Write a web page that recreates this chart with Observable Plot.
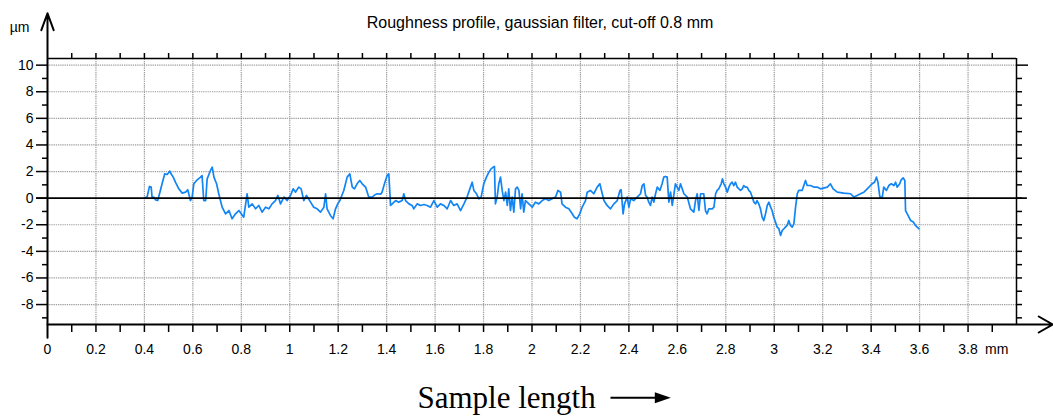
<!DOCTYPE html>
<html>
<head>
<meta charset="utf-8">
<script src="https://cdn.jsdelivr.net/npm/d3@7"></script>
<script src="https://cdn.jsdelivr.net/npm/@observablehq/plot@0.6"></script>
<style>
  html, body { margin: 0; padding: 0; background: #fff; }
  svg { display: block; }
</style>
</head>
<body>
<div id="chart"></div>
<script>
// Roughness profile: position along the sample (mm) and filtered height (µm)
const positionMm = [
  0.400, 0.411, 0.421, 0.428, 0.432, 0.439, 0.446, 0.455, 0.464, 0.473, 0.484, 0.494, 0.505, 0.510, 0.519, 0.528,
  0.542, 0.556, 0.570, 0.579, 0.590, 0.597, 0.604, 0.618, 0.632, 0.638, 0.645, 0.653, 0.659, 0.673, 0.680, 0.687,
  0.698, 0.707, 0.721, 0.735, 0.749, 0.762, 0.776, 0.790, 0.810, 0.824, 0.831, 0.845, 0.859, 0.872, 0.886, 0.900,
  0.914, 0.927, 0.941, 0.951, 0.962, 0.976, 0.989, 1.003, 1.014, 1.024, 1.037, 1.047, 1.058, 1.069, 1.086, 1.099,
  1.113, 1.127, 1.141, 1.148, 1.154, 1.168, 1.179, 1.189, 1.198, 1.207, 1.223, 1.237, 1.248, 1.258, 1.267, 1.278,
  1.289, 1.299, 1.313, 1.326, 1.340, 1.354,
  1.361, 1.375, 1.381, 1.391, 1.402, 1.409, 1.416, 1.423, 1.437, 1.450, 1.464, 1.471, 1.478, 1.492, 1.505, 1.512,
  1.526, 1.540, 1.554, 1.567, 1.581, 1.595, 1.602, 1.609, 1.622, 1.636, 1.650, 1.664, 1.677, 1.691, 1.705, 1.719,
  1.732, 1.746, 1.753, 1.760, 1.771, 1.781, 1.790, 1.801, 1.812, 1.822, 1.831, 1.840, 1.845, 1.849, 1.856, 1.863,
  1.870, 1.877, 1.884, 1.891, 1.898, 1.904, 1.911, 1.918, 1.925, 1.932, 1.939, 1.946, 1.953, 1.959, 1.966, 1.973,
  1.987, 2.001, 2.014, 2.028, 2.042, 2.056, 2.069, 2.083, 2.097, 2.107, 2.118, 2.124, 2.138, 2.152, 2.166, 2.175,
  2.186, 2.197, 2.207, 2.221, 2.228, 2.241, 2.255, 2.269, 2.280, 2.290, 2.297, 2.310, 2.324, 2.338,
  2.352, 2.363, 2.368, 2.376, 2.382, 2.393, 2.400, 2.407, 2.420, 2.434, 2.448, 2.455, 2.462, 2.469, 2.475, 2.482,
  2.489, 2.496, 2.503, 2.510, 2.517, 2.528, 2.537, 2.544, 2.551, 2.558, 2.565, 2.572, 2.579, 2.586, 2.592, 2.599,
  2.606, 2.613, 2.620, 2.627, 2.641, 2.654, 2.668, 2.675, 2.682, 2.689, 2.696,
  2.709, 2.716, 2.723, 2.730, 2.744, 2.751, 2.758, 2.764, 2.771, 2.781, 2.786, 2.792, 2.799, 2.806, 2.813, 2.819,
  2.826, 2.833, 2.840, 2.847, 2.854, 2.861, 2.868, 2.874, 2.881, 2.888, 2.895, 2.902, 2.909, 2.916, 2.923, 2.929,
  2.936, 2.943, 2.950, 2.957, 2.964, 2.971, 2.978, 2.985, 2.991, 2.998, 3.005, 3.012, 3.019, 3.026, 3.033, 3.040,
  3.046, 3.053, 3.060, 3.067, 3.074, 3.081, 3.088, 3.095, 3.101, 3.115, 3.122, 3.129, 3.136, 3.150, 3.163, 3.177,
  3.191, 3.219, 3.232, 3.243, 3.260, 3.287,
  3.315, 3.329, 3.342, 3.356, 3.370, 3.384, 3.397, 3.404, 3.414, 3.422, 3.428, 3.436, 3.446, 3.452, 3.463, 3.473,
  3.483, 3.494, 3.501, 3.507, 3.518, 3.524, 3.532, 3.539, 3.542, 3.549, 3.556, 3.563, 3.574, 3.583, 3.590, 3.597
];
const heightUm = [
  0.00, 0.08, 0.88, 0.83, 0.00, 0.08, -0.13, -0.18, 0.45, 1.08, 1.83, 1.78, 2.03, 1.83, 1.58, 1.20,
  0.70, 0.38, 0.45, 0.63, -0.18, 0.08, 1.08, 1.38, 1.58, 1.70, -0.18, -0.18, 1.45, 2.08, 2.33, 1.58,
  1.08, 0.33, -0.68, -1.18, -0.93, -1.55, -1.18, -0.93, -1.43, 0.33, -0.68, -0.43, -0.80, -0.55, -1.05, -0.68,
  -0.80, -0.43, -0.18, 0.20, -0.43, 0.08, -0.18, 0.20, 0.70, 0.45, 0.83, 0.70, -0.18, 0.20, -0.30, -0.68,
  -0.80, -1.05, -0.68, 0.33, -0.80, -1.30, -1.55, -0.80, -0.43, -0.18, 0.58, 1.58, 1.83, 0.83, 0.70, 1.08,
  1.33, 1.08, 0.83, 0.08, 0.08, 0.28,
  0.33, 0.30, 0.45, 1.08, 1.70, 1.83, -0.55, -0.43, -0.18, -0.30, -0.18, 0.33, -0.18, -0.43, -0.55, -0.80,
  -0.43, -0.55, -0.48, -0.55, -0.68, -0.18, -0.43, -0.68, -0.43, -0.55, -0.80, -0.18, -0.55, -0.43, -0.93, -0.43,
  0.08, 0.83, 1.20, 0.58, 0.33, -0.05, 0.08, 1.08, 1.58, 1.95, 2.20, 2.33, 2.38, -0.43, 0.08, 1.08,
  1.58, 0.58, -0.18, 0.45, -0.55, 0.70, -0.93, 0.08, -1.05, 0.70, 0.83, 0.58, -0.80, 0.33, -1.05, -0.18,
  -0.43, -0.68, -0.30, -0.43, -0.18, -0.05, -0.18, -0.05, 0.08, 0.58, 0.45, -0.43, -0.68, -0.80, -1.18, -1.43,
  -1.55, -1.18, -0.68, -0.18, 0.45, 0.58, 0.33, 0.83, 1.08, 0.33, -0.18, -0.55, -0.80, -0.43,
  -0.18, 0.58, 0.63, -1.18, -0.43, 0.08, -0.68, -0.05, -0.18, 0.08, 0.33, 0.95, 1.08, 0.20, 0.08, -0.30,
  -0.55, 0.08, -0.30, 0.33, 0.83, 0.58, 1.08, 1.58, 1.63, 1.58, -0.30, 0.45, -0.55, 0.33, 1.08, 0.83,
  0.58, 1.08, 0.70, 0.33, 0.08, -0.80, -1.05, -0.18, 0.33, -0.93, 0.33,
  0.33, -0.93, -1.18, -0.80, -0.80, -0.68, 0.33, 0.58, 0.70, 1.08, 1.45, 1.08, 0.83, 0.45, 0.83, 1.08,
  1.20, 0.95, 1.20, 0.83, 0.70, 0.58, 0.70, 0.95, 0.83, 0.83, 0.58, 0.45, 0.08, -0.30, -0.43, -0.18,
  -0.43, -0.80, -1.43, -1.68, -1.18, -0.55, -0.30, -0.68, -0.93, -1.43, -1.80, -2.18, -2.30, -2.80, -2.43, -2.30,
  -2.18, -2.05, -1.68, -2.05, -2.18, -1.93, -0.68, 0.33, 0.58, 0.58, 0.95, 1.33, 0.95, 0.95, 0.83, 0.83,
  0.70, 0.83, 1.08, 0.70, 0.45, 0.38,
  0.33, 0.08, 0.20, 0.33, 0.45, 0.70, 0.95, 1.08, 1.20, 1.58, 1.20, 0.08, 0.08, 0.83, 0.58, 0.95,
  1.08, 0.95, 1.20, 0.83, 1.08, 1.38, 1.53, 1.33, -0.93, -1.18, -1.43, -1.68, -1.80, -2.05, -2.18, -2.30
];

// Axis ticks and labels
const xLabelTicks = [0, 0.2, 0.4, 0.6, 0.8, 1, 1.2, 1.4, 1.6, 1.8, 2, 2.2, 2.4, 2.6, 2.8, 3, 3.2, 3.4, 3.6, 3.8];
const yLabelTicks = [-8, -6, -4, -2, 0, 2, 4, 6, 8, 10];
const xMinorTicks = d3.range(1, 40).map(i => i / 10);
const yOddTicks = [-9, -7, -5, -3, -1, 1, 3, 5, 7, 9];
const yRightTicks = d3.range(-9, 10);
const xGrid = xLabelTicks.filter(v => v > 0);
const yGrid = yLabelTicks.filter(v => v !== 0);

const titleText = "Roughness profile, gaussian filter, cut-off 0.8 mm";
const unitY = "µm";
const unitX = "mm";
const captionText = "Sample length";

const profile = positionMm.map((x, i) => ({x, y: heightUm[i]}));

const ink = "#000";
const profileBlue = "#1285f5";
const gridStyle = {stroke: "#9d9d9d", strokeWidth: 1.2, strokeDasharray: "1.3,0.9"};
const xDomain = [0, 4];
const yDomain = [-9.5, 10.5];

// Filled arrowhead used after the caption
const arrowHead = {
  draw(context) {
    context.moveTo(8, 0);
    context.lineTo(-8, -5.5);
    context.lineTo(-8, 5.5);
    context.closePath();
  }
};

const chart = Plot.plot({
  width: 1053,
  height: 417,
  marginTop: 58,
  marginRight: 37,
  marginBottom: 93,
  marginLeft: 47,
  x: {domain: xDomain, axis: null},
  y: {domain: yDomain, axis: null},
  style: {
    fontFamily: '"Liberation Sans", Arial, sans-serif',
    fontSize: "14px",
    color: ink,
    background: "#fff",
    overflow: "visible"
  },
  marks: [
    // dotted grid
    Plot.ruleX(xGrid, {y1: yDomain[0], y2: yDomain[1], ...gridStyle}),
    Plot.ruleY(yGrid, {x1: xDomain[0], x2: xDomain[1], ...gridStyle}),

    // profile
    Plot.line(profile, {x: "x", y: "y", stroke: profileBlue, strokeWidth: 1.7, strokeLinejoin: "round"}),

    // zero reference line
    Plot.ruleY([0], {x1: -0.045, x2: 4.045, stroke: ink, strokeWidth: 1.6}),

    // frame top and right
    Plot.ruleY([yDomain[1]], {x1: xDomain[0], x2: xDomain[1], stroke: ink, strokeWidth: 1.5}),
    Plot.ruleX([xDomain[1]], {y1: yDomain[0], y2: yDomain[1], stroke: ink, strokeWidth: 1.5}),

    // tick marks
    Plot.axisX(xMinorTicks, {anchor: "top", tickSize: 6, fill: "none", label: null, strokeWidth: 1.5}),
    Plot.axisX(xMinorTicks, {anchor: "bottom", tickSize: 8, fill: "none", label: null, strokeWidth: 1.5}),
    Plot.axisY(yOddTicks, {anchor: "left", tickSize: 5, fill: "none", label: null, strokeWidth: 1.5}),
    Plot.axisY(yRightTicks, {anchor: "right", tickSize: 5, fill: "none", label: null, strokeWidth: 1.5}),
    Plot.axisY([10], {anchor: "right", tickSize: 11, fill: "none", label: null, strokeWidth: 1.5}),

    // labelled ticks
    Plot.axisY(yLabelTicks, {anchor: "left", tickSize: 11, tickPadding: 3, label: null, strokeWidth: 1.5, tickFormat: d => String(d)}),
    Plot.axisX(xLabelTicks, {anchor: "bottom", tickSize: 0, tickPadding: 20, label: null, tickFormat: d => String(d)}),
    Plot.text([unitX], {x: 3.8, frameAnchor: "bottom", text: d => d, lineAnchor: "top", textAnchor: "start", dx: 17, dy: 20}),

    // axes with arrowheads
    Plot.arrow([0], {x1: 0, x2: 0, y1: -10.5, y2: 13.9, stroke: ink, strokeWidth: 2, headAngle: 40, headLength: 13.5}),
    Plot.arrow([0], {x1: 0, x2: 4.149, y1: yDomain[0], y2: yDomain[0], stroke: ink, strokeWidth: 2, headAngle: 60, headLength: 12}),
    Plot.text([unitY], {frameAnchor: "top-left", text: d => d, textAnchor: "middle", lineAnchor: "middle", dx: -28, dy: -31}),

    // title
    Plot.text([titleText], {frameAnchor: "top", text: d => d, dx: 8, dy: -42, fontSize: 16}),

    // caption with arrow
    Plot.text([captionText], {x: 1.895, y: -15, text: d => d, fontFamily: '"Liberation Serif", "Times New Roman", serif', fontSize: 31}),
    Plot.link([0], {x1: 2.324, x2: 2.52, y1: -15, y2: -15, stroke: ink, strokeWidth: 2}),
    Plot.dot([0], {x: 2.54, y: -15, symbol: arrowHead, fill: ink, stroke: "none", r: 6})
  ]
});

document.getElementById("chart").append(chart);
</script>
</body>
</html>
